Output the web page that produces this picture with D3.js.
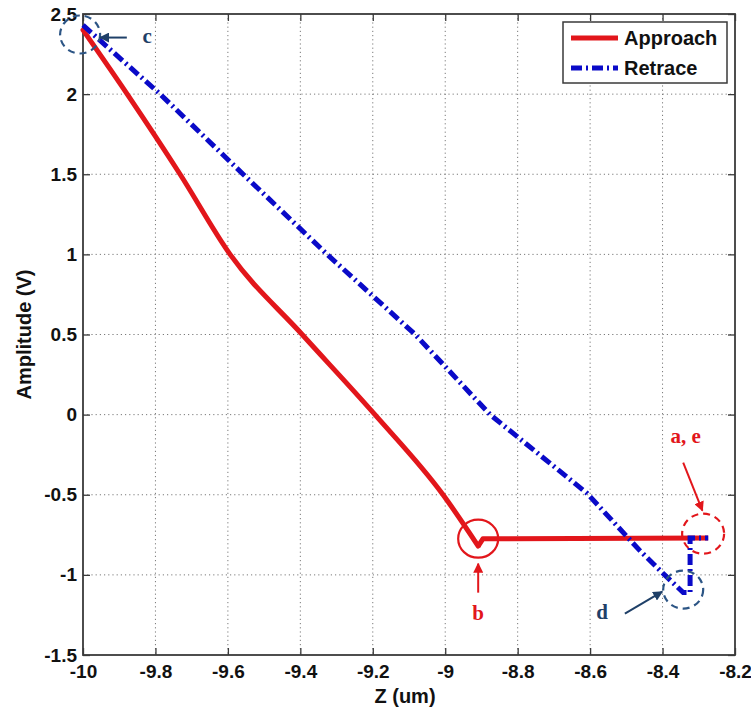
<!DOCTYPE html>
<html><head><meta charset="utf-8">
<script src="https://cdn.jsdelivr.net/npm/d3@7"></script>
<style>
html,body{margin:0;padding:0;background:#fff;}
svg{display:block;}
</style></head>
<body>
<svg id="chart" width="751" height="710"></svg>
<script>
// ---------- data ----------
const approachZ = [-10.0, -9.878, -9.732, -9.594, -9.395, -9.194, -9.006, -8.909, -8.896, -8.274];
const approachA = [2.40, 2.00, 1.50, 1.00, 0.50, 0.00, -0.50, -0.82, -0.775, -0.77];

const retraceZ = [-10.0, -9.787, -9.558, -9.326, -9.083, -8.876, -8.609, -8.462, -8.399, -8.343, -8.324, -8.324, -8.274];
const retraceA = [2.43, 2.00, 1.50, 1.00, 0.50, 0.00, -0.49, -0.85, -0.99, -1.11, -1.11, -0.77, -0.77];

const xTicks = [-10, -9.8, -9.6, -9.4, -9.2, -9, -8.8, -8.6, -8.4, -8.2];
const xTickLabels = ["-10", "-9.8", "-9.6", "-9.4", "-9.2", "-9", "-8.8", "-8.6", "-8.4", "-8.2"];
const yTicks = [-1.5, -1, -0.5, 0, 0.5, 1, 1.5, 2, 2.5];
const yTickLabels = ["-1.5", "-1", "-0.5", "0", "0.5", "1", "1.5", "2", "2.5"];

const seriesNames = ["Approach", "Retrace"];
const xTitle = "Z (um)";
const yTitle = "Amplitude (V)";

// annotations (data coordinates)
const annLabels = ["c", "b", "a, e", "d"];
const annLabelZ = [-9.823, -8.909, -8.336, -8.567];
const annLabelA = [2.322, -1.28, -0.175, -1.273];
const arrowFromZ = [-9.879, -8.909, -8.343, -8.504];
const arrowFromA = [2.353, -1.111, -0.30, -1.242];
const arrowToZ = [-9.953, -8.909, -8.290, -8.401];
const arrowToA = [2.353, -0.930, -0.599, -1.105];
const circleZ = [-10.008, -8.909, -8.288, -8.343];
const circleA = [2.372, -0.774, -0.743, -1.092];

// ---------- layout ----------
const M = {left: 83, right: 735, top: 14, bottom: 655};
const svg = d3.select("#chart");
const x = d3.scaleLinear().domain([-10, -8.2]).range([M.left, M.right]);
const y = d3.scaleLinear().domain([-1.5, 2.5]).range([M.bottom, M.top]);

const RED = "#e2161b", BLUE = "#0a0ac8", DARKBLUE = "#1f4068", AXIS = "#3a3a3a";
const FONT = "'Liberation Sans', Arial, sans-serif";
const SERIF = "'Liberation Serif', 'Times New Roman', serif";

// grid
const grid = svg.append("g");
grid.selectAll("line.gx").data(xTicks.slice(1, -1)).join("line")
  .attr("x1", d => x(d)).attr("x2", d => x(d)).attr("y1", M.top).attr("y2", M.bottom)
  .attr("stroke", "#7a7a7a").attr("stroke-width", 1).attr("stroke-dasharray", "1.2,3");
grid.selectAll("line.gy").data(yTicks.slice(1, -1)).join("line")
  .attr("y1", d => y(d)).attr("y2", d => y(d)).attr("x1", M.left).attr("x2", M.right)
  .attr("stroke", "#7a7a7a").attr("stroke-width", 1).attr("stroke-dasharray", "1.2,3");

// axes
const xAxis = d3.axisBottom(x).tickValues(xTicks).tickFormat((d, i) => xTickLabels[i])
  .tickSizeInner(-7).tickSizeOuter(0).tickPadding(10);
const yAxis = d3.axisLeft(y).tickValues(yTicks).tickFormat((d, i) => yTickLabels[i])
  .tickSizeInner(-7).tickSizeOuter(0).tickPadding(6);
const xTop = d3.axisTop(x).tickValues(xTicks).tickFormat("").tickSizeInner(-7).tickSizeOuter(0);
const yRight = d3.axisRight(y).tickValues(yTicks).tickFormat("").tickSizeInner(-7).tickSizeOuter(0);

function styleAxis(g) {
  g.select(".domain").remove();
  g.selectAll(".tick line").attr("stroke", AXIS).attr("stroke-width", 1.3);
  g.selectAll(".tick text").attr("fill", "#111").style("font-family", FONT)
    .style("font-weight", "bold").style("font-size", "19px");
}
svg.append("g").attr("transform", `translate(0,${M.bottom})`).call(xAxis).call(styleAxis);
svg.append("g").attr("transform", `translate(${M.left},0)`).call(yAxis).call(styleAxis);
svg.append("g").attr("transform", `translate(0,${M.top})`).call(xTop).call(styleAxis);
svg.append("g").attr("transform", `translate(${M.right},0)`).call(yRight).call(styleAxis);

// frame
svg.append("rect").attr("x", M.left).attr("y", M.top)
  .attr("width", M.right - M.left).attr("height", M.bottom - M.top)
  .attr("fill", "none").attr("stroke", AXIS).attr("stroke-width", 1.8);

// titles
svg.append("text").attr("x", (M.left + M.right) / 2 - 4).attr("y", 703)
  .attr("text-anchor", "middle").style("font-family", FONT).style("font-weight", "bold")
  .style("font-size", "20px").attr("fill", "#111").text(xTitle);
svg.append("text").attr("transform", `translate(31,${(M.top + M.bottom) / 2}) rotate(-90)`)
  .attr("text-anchor", "middle").style("font-family", FONT).style("font-weight", "bold")
  .style("font-size", "20px").attr("fill", "#111").text(yTitle);

// series
const smooth = d3.line().x(d => x(d[0])).y(d => y(d[1])).curve(d3.curveMonotoneX);
const line = d3.line().x(d => x(d[0])).y(d => y(d[1]));
const approach = approachZ.map((z, i) => [z, approachA[i]]);
const retrace = retraceZ.map((z, i) => [z, retraceA[i]]);
const bIdx = 7; // corner point "b"

svg.append("path").datum(approach.slice(0, bIdx + 1)).attr("d", smooth)
  .attr("fill", "none").attr("stroke", RED).attr("stroke-width", 5)
  .attr("stroke-linejoin", "round").attr("stroke-linecap", "round");
svg.append("path").datum(approach.slice(bIdx)).attr("d", line)
  .attr("fill", "none").attr("stroke", RED).attr("stroke-width", 5)
  .attr("stroke-linejoin", "round");
svg.append("path").datum(retrace).attr("d", line)
  .attr("fill", "none").attr("stroke", BLUE).attr("stroke-width", 5)
  .attr("stroke-dasharray", "11,4,2,4");

// annotations
const annColors = [DARKBLUE, RED, RED, DARKBLUE];
const circleDash = ["7,5", null, "7,5", "7,5"];
const circleR = [20, 20, 21, 20];
const defs = svg.append("defs");
annColors.forEach((c, i) => {
  defs.append("marker").attr("id", "arr" + i).attr("viewBox", "0 0 10 10")
    .attr("refX", 9).attr("refY", 5).attr("markerWidth", 5).attr("markerHeight", 5)
    .attr("orient", "auto").attr("markerUnits", "strokeWidth")
    .append("path").attr("d", "M0,0 L10,5 L0,10 z").attr("fill", c);
});
annLabels.forEach((t, i) => {
  const col = annColors[i];
  const circ = svg.append("ellipse").attr("cx", x(circleZ[i])).attr("cy", y(circleA[i]))
    .attr("rx", circleR[i]).attr("ry", circleR[i] - 1)
    .attr("fill", "none").attr("stroke", i === 0 || i === 3 ? "#2c5585" : col).attr("stroke-width", 2.2);
  if (circleDash[i]) circ.attr("stroke-dasharray", circleDash[i]);
  svg.append("line").attr("x1", x(arrowFromZ[i])).attr("y1", y(arrowFromA[i]))
    .attr("x2", x(arrowToZ[i])).attr("y2", y(arrowToA[i]))
    .attr("stroke", col).attr("stroke-width", 2).attr("marker-end", `url(#arr${i})`);
  svg.append("text").attr("x", x(annLabelZ[i])).attr("y", y(annLabelA[i]))
    .attr("text-anchor", "middle").style("font-family", SERIF).style("font-weight", "bold")
    .style("font-size", "21px").attr("fill", col).text(t);
});

// legend
const lg = svg.append("g");
lg.append("rect").attr("x", 563).attr("y", 22).attr("width", 164).attr("height", 61)
  .attr("fill", "#fff").attr("stroke", AXIS).attr("stroke-width", 1.5);
const legColors = [RED, BLUE];
const legDash = [null, "11,4,2,4"];
seriesNames.forEach((name, i) => {
  const yy = 38 + i * 30;
  const l = lg.append("line").attr("x1", 571).attr("x2", 618).attr("y1", yy).attr("y2", yy)
    .attr("stroke", legColors[i]).attr("stroke-width", 5);
  if (legDash[i]) l.attr("stroke-dasharray", legDash[i]);
  lg.append("text").attr("x", 624).attr("y", yy + 7).style("font-family", FONT)
    .style("font-weight", "bold").style("font-size", "20px").attr("fill", "#111").text(name);
});
</script>
</body></html>
